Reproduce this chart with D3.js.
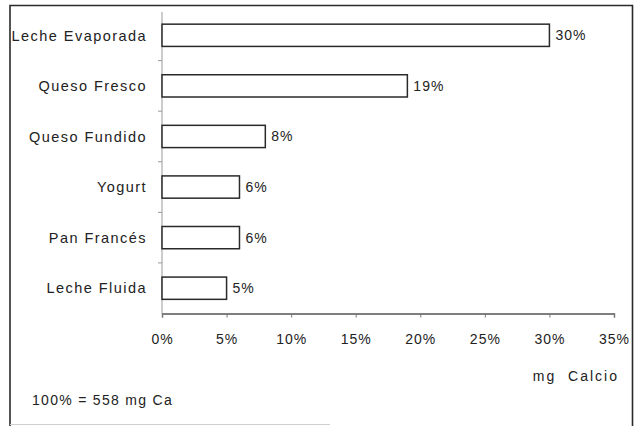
<!DOCTYPE html>
<html>
<head>
<meta charset="utf-8">
<script src="https://cdn.jsdelivr.net/npm/d3@7"></script>
<style>
  html, body { margin: 0; padding: 0; background: #fff; }
  svg { display: block; }
  text { font-family: "Liberation Sans", Arial, Helvetica, sans-serif; fill: #222; }
</style>
</head>
<body>
<svg id="chart" width="638" height="426"></svg>
<script>
// Calcium content of foods, as a share of the 558 mg reference
const categories = ["Leche Evaporada", "Queso Fresco", "Queso Fundido", "Yogurt", "Pan Francés", "Leche Fluida"];
const values = [30, 19, 8, 6, 6, 5];
const xTicks = [0, 5, 10, 15, 20, 25, 30, 35];
const axisTitle = "mg\u00a0\u00a0Calcio";
const footnote = "100% = 558 mg Ca";

const svg = d3.select("#chart");

// outer frame
svg.append("path")
  .attr("d", `M10,426 L10,5.5 L632.5,5.5 L632.5,426`)
  .attr("fill", "none").attr("stroke", "#2a2a2a").attr("stroke-width", 1.6);
svg.append("line")
  .attr("x1", 10).attr("x2", 330).attr("y1", 424.5).attr("y2", 424.5)
  .attr("stroke", "#cfcfcf").attr("stroke-width", 1);

const x = d3.scaleLinear().domain([0, 35]).range([162, 614]);
const pad = 0.56;
const y = d3.scaleBand().domain(categories).range([10, 313.5])
  .paddingInner(pad).paddingOuter(pad / 2);

// x axis
const xAxis = svg.append("g")
  .attr("transform", `translate(0,${y.range()[1]})`)
  .call(d3.axisBottom(x).tickValues(xTicks).tickFormat(d => d + "%").tickSize(4).tickPadding(17));
xAxis.select(".domain").attr("stroke", "#555").attr("stroke-width", 1.4);
xAxis.selectAll(".tick line").attr("stroke", "#777");
xAxis.selectAll("text")
  .style("font-size", "14px").style("letter-spacing", "1px")
  .attr("fill", "#222");

// y axis: vertical line, ticks at category boundaries
const yAxis = svg.append("g");
yAxis.append("line")
  .attr("x1", x(0)).attr("x2", x(0))
  .attr("y1", y.range()[0] + 2).attr("y2", y.range()[1])
  .attr("stroke", "#999").attr("stroke-width", 1);
const boundaries = categories.slice(1).map(c => y(c) - y.paddingOuter() * y.step());
yAxis.selectAll("line.bt").data(boundaries).join("line")
  .attr("class", "bt")
  .attr("x1", x(0) - 4).attr("x2", x(0))
  .attr("y1", d => d).attr("y2", d => d)
  .attr("stroke", "#999");

// category labels
svg.append("g").selectAll("text").data(categories).join("text")
  .attr("x", x(0) - 15)
  .attr("y", d => y(d) + y.bandwidth() / 2)
  .attr("dy", "0.36em")
  .attr("text-anchor", "end")
  .style("font-size", "14.5px")
  .style("letter-spacing", "1.45px")
  .text(d => d);

// bars
svg.append("g").selectAll("rect").data(values).join("rect")
  .attr("x", x(0))
  .attr("y", (d, i) => y(categories[i]))
  .attr("width", d => x(d) - x(0))
  .attr("height", y.bandwidth())
  .attr("fill", "#fff")
  .attr("stroke", "#2a2a2a")
  .attr("stroke-width", 1.5);

// value labels
svg.append("g").selectAll("text").data(values).join("text")
  .attr("x", d => x(d) + 6)
  .attr("y", (d, i) => y(categories[i]) + y.bandwidth() / 2)
  .attr("dy", "0.36em")
  .style("font-size", "14px")
  .style("letter-spacing", "1px")
  .text(d => d + "%");

// axis title
svg.append("text")
  .attr("x", 619).attr("y", 381)
  .attr("text-anchor", "end")
  .style("font-size", "14px")
  .style("letter-spacing", "2px")
  .text(axisTitle);

// reference note
svg.append("text")
  .attr("x", 32).attr("y", 405)
  .style("font-size", "14px")
  .style("letter-spacing", "1.3px")
  .text(footnote);
</script>
</body>
</html>
